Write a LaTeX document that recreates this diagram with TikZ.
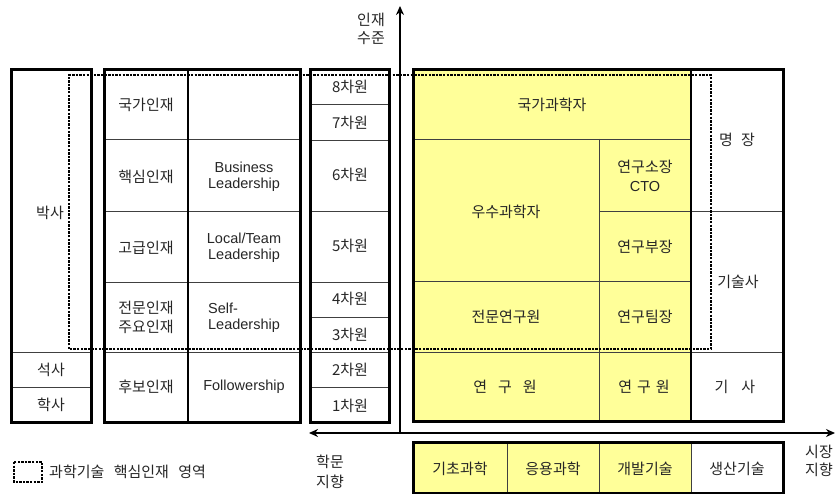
\documentclass[tikz,border=0pt]{standalone}
\usepackage{fontspec}
\setmainfont{Noto Sans CJK KR}
\newfontfamily\latf{Liberation Sans}
\usetikzlibrary{arrows.meta}
\definecolor{ylw}{RGB}{255,255,153}
\begin{document}
\begin{tikzpicture}[x=1pt,y=-1pt,
  outer/.style={line width=3pt, draw=black},
  thinln/.style={line width=0.9pt, draw=black!75},
  midln/.style={line width=1.8pt, draw=black},
  lbl/.style={font=\fontsize{15}{19}\selectfont, text=black!85, inner sep=0pt, align=center},
  en/.style={font=\latf\fontsize{14.5}{15.5}\selectfont, text=black!85, inner sep=0pt, align=center},
  dots/.style={line width=2.6pt, dash pattern=on 2.4pt off 1.2pt},
  axisln/.style={line width=2.5pt}]
\useasboundingbox (0,0) rectangle (836,494);
% fills
\fill[ylw] (413,70) rectangle (691,422);
\fill[ylw] (413,443) rectangle (691,493);
% thin inner lines
\draw[thinln] (11,352) -- (91,352) (11,387) -- (91,387);
\draw[thinln] (104,139) -- (300,139) (104,211) -- (300,211) (104,282) -- (300,282) (104,352) -- (300,352);
\draw[thinln] (310,104) -- (389,104) (310,140) -- (389,140) (310,211) -- (389,211) (310,282) -- (389,282)
  (310,317) -- (389,317) (310,352) -- (389,352) (310,387) -- (389,387);
\draw[thinln] (413,139) -- (691,139) (599,211) -- (691,211) (413,281) -- (691,281) (413,352) -- (783,352)
  (599,139) -- (599,422) (691,211) -- (783,211);
\draw[line width=1.3pt] (691,70) -- (691,422);
\draw[thinln] (507,443) -- (507,493) (599,443) -- (599,493) (691,443) -- (691,493);
\draw[midln] (188,70) -- (188,423);
% dotted region
\draw[dots] (69,349) -- (69,75) -- (711,75) -- (711,349) -- cycle;
% outer boxes
\draw[outer] (11,70) rectangle (91,423);
\draw[outer] (104,70) rectangle (300,423);
\draw[outer] (310,70) rectangle (389,423);
\draw[outer] (413,70) rectangle (783,422);
\draw[outer] (413,443) rectangle (783,493);
% axes
\coordinate (org) at (400,433);
\coordinate (ytop) at (400,6);
\coordinate (xleft) at (309,433);
\coordinate (xright) at (835,433);
\draw[axisln, {Stealth[length=9pt,width=8pt]}-{Stealth[length=9pt,width=8pt]}] (xleft) -- (xright);
\draw[axisln, -{Stealth[length=9pt,width=8pt]}] (org) -- (ytop);
% axis labels
\node[lbl, font=\fontsize{15}{18}\selectfont] (lvl) at (371,29) {인재\\수준};
\node[lbl, font=\fontsize{15}{20}\selectfont] (acad) at (330,472) {학문\\지향};
\node[lbl, font=\fontsize{15}{18}\selectfont] (mkt) at (819,461) {시장\\지향};
% left box
\node[lbl] (phd) at (50,213) {박사};
\node[lbl] (ms) at (51,370) {석사};
\node[lbl] (bs) at (51,405) {학사};
% second box
\node[lbl] (n1) at (146,105) {국가인재};
\node[lbl] (n2) at (146,177) {핵심인재};
\node[lbl] (n3) at (146,248) {고급인재};
\node[lbl] (n4) at (146,317) {전문인재\\주요인재};
\node[lbl] (n5) at (146,387) {후보인재};
\node[en] (e2) at (244,177) {Business\\Leadership};
\node[en] (e3) at (244,248) {Local/Team\\Leadership};
\node[en, align=left] (e4) at (244,318) {Self-\\Leadership};
\node[en] (e5) at (244,387) {Followership};
% level box
\node[lbl] (d8) at (350,87) {8차원};
\node[lbl] (d7) at (350,123) {7차원};
\node[lbl] (d6) at (350,175) {6차원};
\node[lbl] (d5) at (350,246) {5차원};
\node[lbl] (d4) at (350,299) {4차원};
\node[lbl] (d3) at (350,335) {3차원};
\node[lbl] (d2) at (350,370) {2차원};
\node[lbl] (d1) at (350,406) {1차원};
% right box
\node[lbl] (r1) at (552,105) {국가과학자};
\node[lbl] (r2) at (506,212) {우수과학자};
\node[lbl] (r3) at (645,176) {연구소장\\{\latf\fontsize{14.5}{19}\selectfont CTO}};
\node[lbl] (r4) at (645,247) {연구부장};
\node[lbl] (r5) at (506,317) {전문연구원};
\node[lbl] (r6) at (645,317) {연구팀장};
\node[lbl] (r7) at (505,387) {연\hspace{11pt}구\hspace{11pt}원};
\node[lbl] (r8) at (644,387) {연\hspace{5pt}구\hspace{5pt}원};
\node[lbl] (r9) at (737,140) {명\hspace{8pt}장};
\node[lbl] (r10) at (738,282) {기술사};
\node[lbl] (r11) at (735,387) {기\hspace{13pt}사};
% bottom box
\node[lbl] (b1) at (460,469) {기초과학};
\node[lbl] (b2) at (553,469) {응용과학};
\node[lbl] (b3) at (645,469) {개발기술};
\node[lbl] (b4) at (737,469) {생산기술};
% legend
\draw[dots, line width=2.4pt] (14,462) rectangle (42,482);
\node[lbl, anchor=west] (leg) at (49,472) {과학기술\hspace{6pt} 핵심인재\hspace{6pt} 영역};
\end{tikzpicture}
\end{document}
